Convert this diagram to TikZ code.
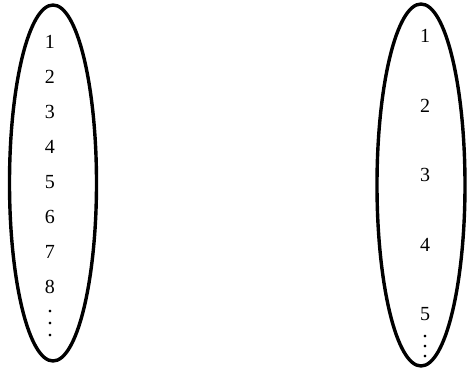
\documentclass[tikz,border=0pt]{standalone}
\usepackage{fontspec}
\setmainfont{Liberation Serif}
\usetikzlibrary{arrows.meta}

\tikzset{
    elem/.style={inner sep=0pt, font=\fontsize{20}{24}\selectfont},
    more/.style={inner sep=0pt, align=center, font=\fontsize{22}{#1}\selectfont},
    set/.style={line width=3.4pt, black}
}

\begin{document}
\begin{tikzpicture}[x=1pt, y=-1pt]

    \useasboundingbox (0,0) rectangle (469,371);

    % left set
    \draw[set] (53,183) ellipse (43.5 and 178);
    \foreach \i in {1,...,8}
        \node[elem] (l\i) at (50,{42+35*(\i-1)}) {\i};
    \node[more=12] (ldots) at (50,324) {.\\.\\.};

    % right set
    \draw[set] (421,185) ellipse (44 and 181);
    \foreach \i in {1,...,5}
        \node[elem] (r\i) at (425,{36+69.5*(\i-1)}) {\i};
    \node[more=10] (rdots) at (425,347) {.\\.\\.};

\end{tikzpicture}
\end{document}
